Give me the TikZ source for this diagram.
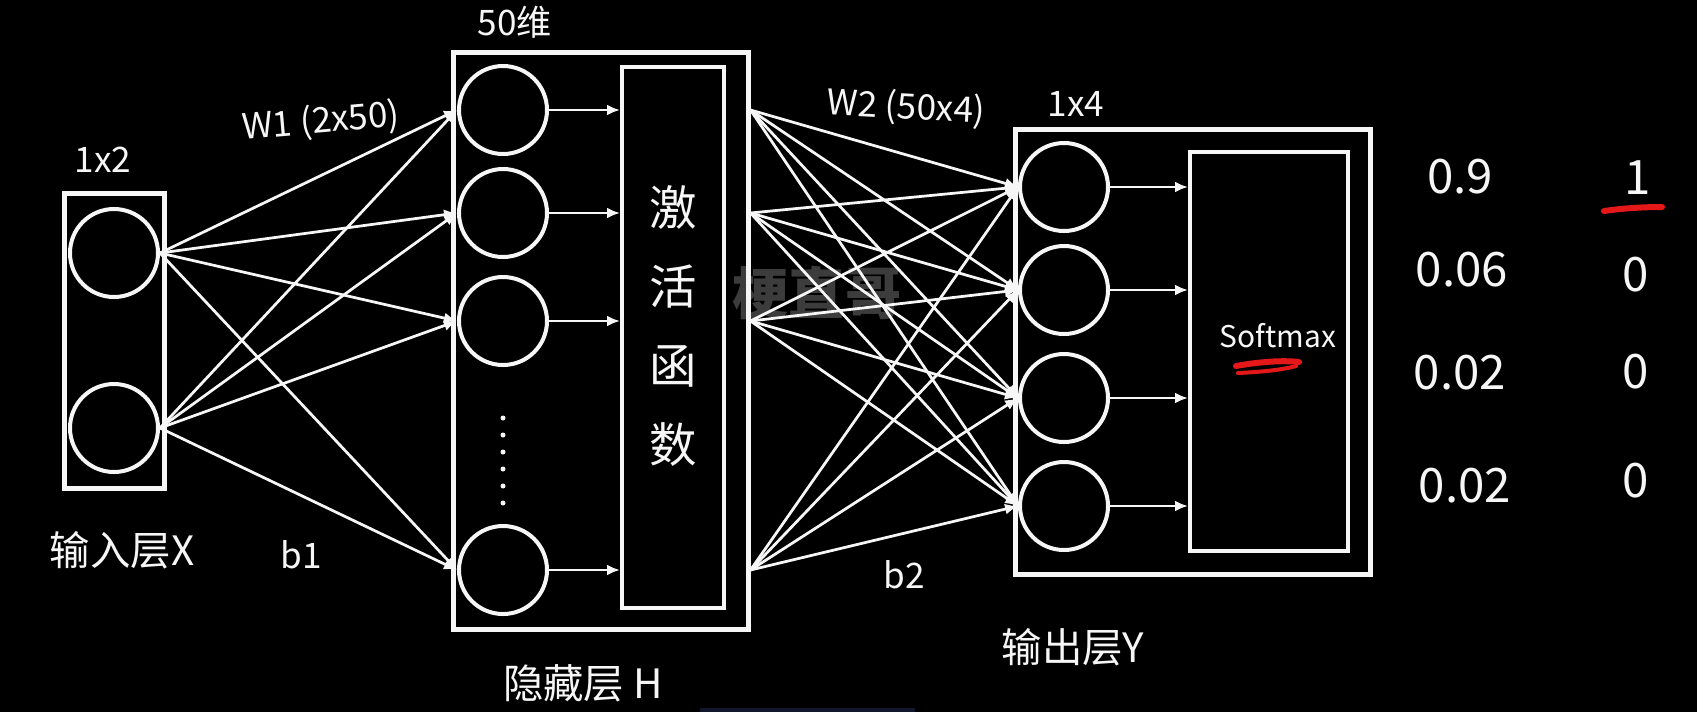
\documentclass[tikz,border=0pt]{standalone}
\usepackage{fontspec}
\newfontfamily\cjk{Noto Sans CJK SC}
\usetikzlibrary{arrows.meta}
\definecolor{BgBlack} {RGB}{0,0,0}
\definecolor{InkWhite}{RGB}{246,246,246}
\definecolor{InkRed}  {RGB}{228,24,24}
\definecolor{MarkGray}{RGB}{60,60,60}
\definecolor{BarBlue} {RGB}{16,22,44}
\tikzset{
  nd_box/.style={
    rectangle, draw=InkWhite, line width=1mm, inner sep=0pt},
  nd_inner/.style={
    rectangle, draw=InkWhite, line width=0.8mm, inner sep=0pt},
  nd_unit/.style={
    circle, draw=InkWhite, line width=0.8mm,
    minimum size=17.6mm, inner sep=0pt},
  arr/.style={-{Latex[length=2.6mm,width=2.2mm]},draw=InkWhite,line width=0.55mm},
  lbl/.style={text=InkWhite,inner sep=0pt,font=\cjk\fontsize{20}{24}\selectfont},
  lbl_cn/.style={text=InkWhite,inner sep=0pt,font=\cjk\fontsize{23}{26}\selectfont},
  lbl_val/.style={text=InkWhite,inner sep=0pt,font=\cjk\fontsize{27}{31}\selectfont},
  redmark/.style={draw=InkRed,line width=1.2mm,line cap=round},
}
\begin{document}
\begin{tikzpicture}[x=0.2mm,y=-0.2mm]

%% page
\fill[BgBlack] (0,0) rectangle (1697,712);
\useasboundingbox (0,0) rectangle (1697,712);
\fill[BarBlue] (700,708) rectangle (915,712);

%% watermark
\node[text=MarkGray,font=\cjk\bfseries\fontsize{32}{36}\selectfont] (wm) at (817,293) {梗直哥};

%% column centres
\def\Xx{114} \def\Hx{503} \def\Yx{1064}

%% ── input layer ─────────────────────────────────────────────
\node[nd_box,minimum width=20mm,minimum height=59mm] (xbox) at (114.5,341) {};
\node[nd_unit] at (\Xx,253) (x1){};
\node[nd_unit] at (\Xx,428) (x2){};
\node[lbl] at (103,160) (xdim){1x2};
\node[lbl_cn] at (122,550) (xname){输入层X};

%% ── hidden layer ────────────────────────────────────────────
\node[nd_box,minimum width=59mm,minimum height=115.4mm] (hbox) at (600.5,340.5) {};
\node[nd_inner,minimum width=20.4mm,minimum height=108.2mm] (act) at (673,337.5) {};
\node[nd_unit] at (\Hx,110) (h1){};
\node[nd_unit] at (\Hx,213) (h2){};
\node[nd_unit] at (\Hx,321) (h3){};
\node[nd_unit] at (\Hx,570) (h4){};
\foreach \k in {0,...,5}
  \fill[InkWhite] (\Hx,418+\k*17) circle (0.5mm);
\node[text=InkWhite,inner sep=0pt,align=center,
      font=\cjk\fontsize{27}{45}\selectfont] (actlbl) at (673,326) {激\\活\\函\\数};
\node[lbl] at (515,22) (hdim){50维};
\node[lbl_cn] at (583,683) (hname){隐藏层 H};

%% ── output layer ────────────────────────────────────────────
\node[nd_box,minimum width=71mm,minimum height=89mm] (ybox) at (1192.5,351.5) {};
\node[nd_inner,minimum width=31.6mm,minimum height=79.8mm] (smax) at (1269,351.5) {};
\node[nd_unit] at (\Yx,187) (y1){};
\node[nd_unit] at (\Yx,290) (y2){};
\node[nd_unit] at (\Yx,398) (y3){};
\node[nd_unit] at (\Yx,506) (y4){};
\node[text=InkWhite,inner sep=0pt,font=\cjk\fontsize{17}{20}\selectfont] (smlbl) at (1278,336) {Softmax};
\node[lbl] at (1076,104) (ydim){1x4};
\node[lbl_cn] at (1073,647) (yname){输出层Y};

%% weights / biases
\node[lbl,rotate=5] at (321,122) (w1){W1 (2x50)};
\node[lbl,rotate=-3] at (906,108) (w2){W2 (50x4)};
\node[lbl] at (301,555) (b1){b1};
\node[lbl] at (904,575) (b2){b2};

%% ── connections ─────────────────────────────────────────────
\foreach \i in {x1,x2}
  \foreach \j in {h1,h2,h3,h4}
    \draw[arr] (\i.east)--(\j.west);
\foreach \j in {h1,h2,h3,h4}
  \draw[arr] (\j.east)--(\j -| act.west);
\foreach \i in {h1,h2,h3,h4}
  \foreach \j in {y1,y2,y3,y4}
    \draw[arr] (hbox.east |- \i)--(\j.west);
\foreach \j in {y1,y2,y3,y4}
  \draw[arr] (\j.east)--(\j -| smax.west);

%% ── probabilities / one-hot ─────────────────────────────────
\node[lbl_val] at (1460,177) (p1){0.9};
\node[lbl_val] at (1462,270) (p2){0.06};
\node[lbl_val] at (1460,373) (p3){0.02};
\node[lbl_val] at (1465,486) (p4){0.02};
\node[lbl_val] at (1638,178) (t1){1};
\node[lbl_val] at (1636,275) (t2){0};
\node[lbl_val] at (1636,372) (t3){0};
\node[lbl_val] at (1636,481) (t4){0};

%% red marks
\draw[redmark] (1604,211) .. controls (1625,208) and (1645,207) .. (1662,207);
\draw[redmark] (1236,366) .. controls (1258,362) and (1282,360) .. (1299,362);
\draw[redmark,line width=0.8mm] (1238,373) .. controls (1260,372) and (1282,370) .. (1296,366);

\end{tikzpicture}
\end{document}
